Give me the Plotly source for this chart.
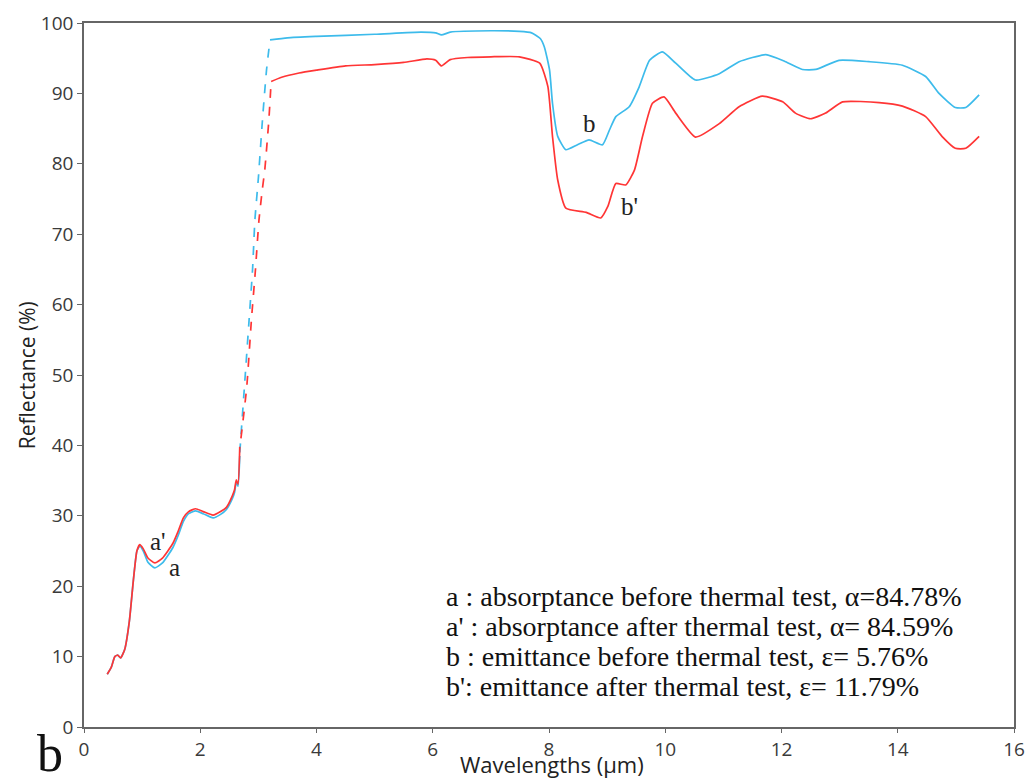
import plotly.graph_objects as go

# ---- data ----
# before thermal test (blue) - near infrared solid part
blue_nir_x = [0.40,0.47,0.53,0.58,0.63,0.70,0.78,0.85,0.91,0.96,1.02,1.10,1.22,1.35,1.53,1.62,1.71,1.80,1.92,2.05,2.22,2.35,2.45,2.55,2.59,2.62,2.65,2.68]
blue_nir_y = [7.5,8.5,10.0,10.2,9.8,11.0,15.0,20.9,25.0,25.7,25.0,23.4,22.6,23.3,25.5,27.2,29.2,30.3,30.7,30.3,29.7,30.2,30.9,32.4,33.3,34.8,34.2,38.5]
# dashed transition
blue_gap_x = [2.68,2.76,2.84,2.90,2.94,3.00,3.07,3.14,3.20]
blue_gap_y = [39.0,48.3,57.8,65.0,72.0,78.0,86.2,93.3,97.6]
# infrared solid part
blue_ir_x = [3.20,3.5,4.0,5.0,5.8,6.05,6.15,6.3,7.0,7.49,7.7,7.85,7.92,8.01,8.06,8.15,8.29,8.49,8.69,8.92,9.04,9.15,9.38,9.55,9.73,9.95,10.18,10.52,10.93,11.27,11.73,12.07,12.36,12.59,12.99,13.51,14.08,14.48,14.71,14.99,15.17,15.40]
blue_ir_y = [97.6,97.9,98.1,98.4,98.7,98.6,98.3,98.7,98.9,98.8,98.6,97.8,96.6,93.3,88.6,83.9,82.0,82.7,83.4,82.7,84.8,86.7,88.1,90.9,94.7,95.9,94.3,91.9,92.8,94.5,95.5,94.5,93.4,93.4,94.7,94.5,94.0,92.4,90.0,88.0,88.0,89.8]

# after thermal test (red)
red_nir_x = [0.40,0.47,0.53,0.58,0.63,0.70,0.78,0.85,0.91,0.96,1.02,1.10,1.22,1.35,1.53,1.62,1.71,1.80,1.92,2.05,2.22,2.35,2.45,2.55,2.59,2.62,2.65,2.68]
red_nir_y = [7.5,8.5,10.0,10.2,9.8,11.0,15.0,20.9,25.0,25.9,25.3,24.0,23.3,24.0,26.1,27.8,29.7,30.6,31.0,30.6,30.1,30.6,31.2,32.8,33.7,35.1,34.5,39.8]
red_gap_x = [2.70,2.80,2.88,2.95,3.01,3.07,3.11,3.18,3.22]
red_gap_y = [41.0,48.3,57.8,65.0,72.0,76.5,79.1,86.2,91.7]
red_ir_x = [3.22,3.4,3.7,4.0,4.5,5.0,5.5,5.9,6.05,6.15,6.3,6.6,7.0,7.49,7.84,7.98,8.06,8.15,8.29,8.64,8.89,9.01,9.15,9.32,9.47,9.61,9.78,9.98,10.18,10.52,10.93,11.27,11.67,12.02,12.24,12.50,12.76,13.05,13.68,14.08,14.48,14.76,14.99,15.17,15.40]
red_ir_y = [91.7,92.3,92.9,93.3,93.9,94.1,94.4,94.9,94.7,93.9,94.8,95.1,95.2,95.2,94.3,91.0,83.9,77.7,73.7,73.1,72.3,73.9,77.2,77.0,79.1,83.9,88.6,89.5,87.2,83.8,85.7,88.1,89.6,88.8,87.2,86.4,87.2,88.8,88.7,88.2,86.7,83.9,82.2,82.2,83.9]

x_ticks = [0, 2, 4, 6, 8, 10, 12, 14, 16]
y_ticks = [0, 10, 20, 30, 40, 50, 60, 70, 80, 90, 100]

curve_labels = ["a'", "a", "b", "b'"]
curve_label_x = [1.27, 1.55, 8.69, 9.38]
curve_label_y = [26.4, 22.7, 85.7, 73.9]

legend_lines = [
    "a : absorptance before thermal test, \u03b1=84.78%",
    "a' : absorptance after thermal test, \u03b1= 84.59%",
    "b : emittance before thermal test, \u03b5= 5.76%",
    "b': emittance after thermal test, \u03b5= 11.79%",
]

BLUE = "#3DBBEB"
RED = "#FF3535"

fig = go.Figure()

def add(x, y, color, dash="solid"):
    fig.add_trace(go.Scatter(x=x, y=y, mode="lines",
                             line=dict(color=color, width=1.7, dash=dash,
                                       shape="spline", smoothing=0.5),
                             showlegend=False, hoverinfo="skip"))

add(blue_nir_x, blue_nir_y, BLUE)
add(blue_gap_x, blue_gap_y, BLUE, "dash")
add(blue_ir_x, blue_ir_y, BLUE)
add(red_nir_x, red_nir_y, RED)
add(red_gap_x, red_gap_y, RED, "dash")
add(red_ir_x, red_ir_y, RED)

for t, xx, yy in zip(curve_labels, curve_label_x, curve_label_y):
    fig.add_annotation(x=xx, y=yy, text=t, showarrow=False,
                       font=dict(family="Liberation Serif", size=25, color="#222"))

legend_y0 = 18.6
for i, line in enumerate(legend_lines):
    fig.add_annotation(x=6.2, y=legend_y0 - i * 4.3, text=line, showarrow=False,
                       xanchor="left", yanchor="middle",
                       font=dict(family="Liberation Serif", size=28, color="#111"))

# panel letter
fig.add_annotation(xref="paper", yref="paper", x=-0.053, y=-0.038, text="b",
                   showarrow=False, xanchor="left", yanchor="middle",
                   font=dict(family="Liberation Serif", size=52, color="#111"))
# axis titles
fig.add_annotation(xref="paper", yref="paper", x=0.503, y=-0.0767,
                   text="Wavelengths (\u00b5m)", showarrow=False,
                   xanchor="center", yanchor="bottom",
                   font=dict(family="Open Sans", size=22, color="#222"))
fig.add_annotation(xref="paper", yref="paper", x=-0.061, y=0.5,
                   text="Reflectance (%)", showarrow=False, textangle=-90,
                   xanchor="center", yanchor="middle",
                   font=dict(family="Open Sans", size=21, color="#222"))

tick_font = dict(family="Open Sans", size=19, color="#3a3a3a")
fig.update_layout(
    width=1025, height=781,
    margin=dict(l=84, r=11, t=23, b=54),
    paper_bgcolor="white", plot_bgcolor="white",
    xaxis=dict(range=[0, 16], tickvals=x_ticks, showgrid=False, zeroline=False,
               showline=True, linecolor="#666", linewidth=1.6, mirror=True,
               ticks="outside", ticklen=4, tickcolor="#666", tickfont=tick_font,
               automargin=False),
    yaxis=dict(range=[0, 100], tickvals=y_ticks, showgrid=False, zeroline=False,
               showline=True, linecolor="#666", linewidth=1.6, mirror=True,
               ticks="outside", ticklen=5, tickcolor="#666", tickfont=tick_font,
               automargin=False),
)

fig.write_html("out.html", config={"displayModeBar": False},
               post_script="document.body.style.margin='0';document.body.style.overflow='hidden';")
